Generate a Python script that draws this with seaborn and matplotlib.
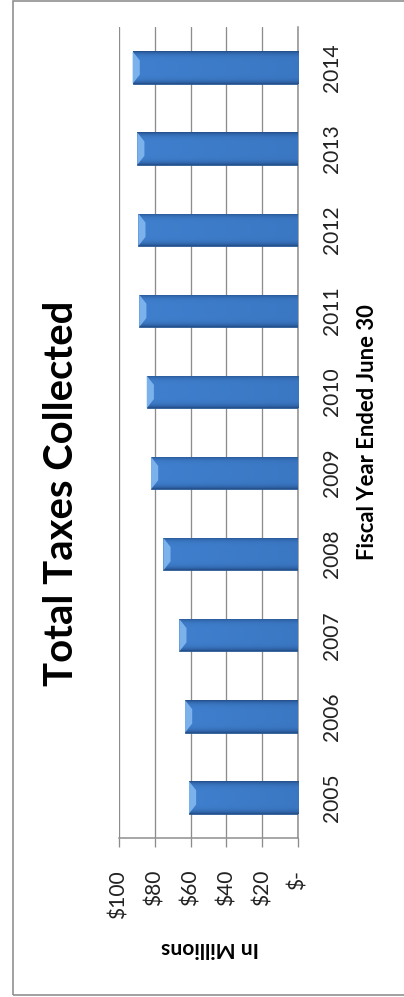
import numpy as np
import pandas as pd
import matplotlib
matplotlib.use("Agg")
import matplotlib.pyplot as plt
import seaborn as sns
from matplotlib.patches import Rectangle, Polygon
from matplotlib.colors import to_rgb

# ---- data ----
years = ['2005', '2006', '2007', '2008', '2009', '2010', '2011', '2012', '2013', '2014']
taxes = [60.9, 63.1, 66.3, 75.2, 82.1, 84.5, 88.7, 89.2, 89.8, 92.4]
value_ticks = [0, 20, 40, 60, 80, 100]
value_tick_labels = ['$-', '$20', '$40', '$60', '$80', '$100']
title_text = 'Total Taxes Collected'
cat_axis_title = 'Fiscal Year Ended June 30'
val_axis_title = 'In Millions'

sns.set_style('white')
plt.rcParams['font.family'] = ['Lato', 'DejaVu Sans']

W, H = 404, 997
fig = plt.figure(figsize=(W / 72, H / 72), dpi=72)
fig.patch.set_facecolor('white')
ax = fig.add_axes([119 / W, 1 - 838 / H, (298 - 119) / W, (838 - 27) / H])

df = pd.DataFrame({'year': years, 'tax': taxes})
sns.barplot(data=df, x='tax', y='year', order=years[::-1], orient='h',
            width=0.4, color='#3C78C6', ax=ax, zorder=3, saturation=1)

ax.set_xlim(100, 0)
ax.set_ylim(9.5, -0.5)

# gradient fill + bevel on each bar
base = np.array(to_rgb('#2E62A8'))
mid = np.array(to_rgb('#3F7FCD'))
edge = np.array(to_rgb('#24508C'))
ny, nx = 40, 120
for p in list(ax.patches):
    x0, y0, w, h = p.get_x(), p.get_y(), p.get_width(), p.get_height()
    t = np.linspace(-1, 1, ny)[:, None]
    s = np.linspace(0, 1, nx)[None, :]
    across = 1 - np.abs(t) ** 6
    along = 0.75 + 0.25 * s
    col_lin = (base[None, None, :] * (1 - along[..., None]) + mid[None, None, :] * along[..., None])
    img = col_lin * across[..., None] + edge[None, None, :] * (1 - across[..., None])
    img = np.clip(img, 0, 1)
    im = ax.imshow(img, extent=(x0, x0 + w, y0 + h, y0), aspect='auto', zorder=3.5,
                   interpolation='bilinear')
    im.set_clip_path(p)
    p.set_edgecolor('#24558F')
    p.set_linewidth(0.8)
    tip = x0 + w
    bw = 4.0
    bev = Polygon([(tip, y0), (tip - bw, y0 + h * 0.28), (tip - bw, y0 + h * 0.72), (tip, y0 + h)],
                  closed=True, facecolor='#7FB5EE', edgecolor='none', zorder=4, alpha=0.95)
    ax.add_patch(bev)
    ax.set_xlim(100, 0)
    ax.set_ylim(9.5, -0.5)

ax.set_xticks(value_ticks)
ax.set_xticklabels(value_tick_labels, rotation=90, fontsize=21, color='#222222')
ax.yaxis.tick_right()
ax.set_yticks(range(len(years)))
ax.set_yticklabels(years[::-1], rotation=90, fontsize=21, color='#222222', va='center')
ax.set_xlabel('')
ax.set_ylabel('')

ax.set_axisbelow(True)
ax.xaxis.grid(True, color='#8c8c8c', linewidth=1.3, zorder=0)
ax.yaxis.grid(False)
for sp in ['left', 'top']:
    ax.spines[sp].set_visible(False)
for sp in ['right', 'bottom']:
    ax.spines[sp].set_visible(True)
    ax.spines[sp].set_color('#8c8c8c')
    ax.spines[sp].set_linewidth(1.5)
ax.tick_params(axis='x', length=9, width=1.3, color='#8c8c8c', direction='out', pad=23, bottom=True)
ax.tick_params(axis='y', length=0, pad=24, right=True, left=False)

# texts
fig.text(62 / W, 1 - 493 / H, title_text, rotation=90, fontsize=40, fontweight='bold',
         ha='center', va='center', color='black')
fig.text(368 / W, 1 - 432 / H, cat_axis_title, rotation=90, fontsize=22, fontweight='bold',
         ha='center', va='center', color='black')
fig.text(210 / W, 1 - 948 / H, val_axis_title, rotation=180, fontsize=21, fontweight='bold',
         ha='center', va='center', color='black')

# chart border
fig.patches.append(Rectangle((13 / W, 2 / H), 1.2, (H - 2.5) / H, transform=fig.transFigure,
                             fill=False, edgecolor='#8c8c8c', linewidth=1.6, zorder=10))

fig.savefig('out.png', dpi=72, facecolor='white')
